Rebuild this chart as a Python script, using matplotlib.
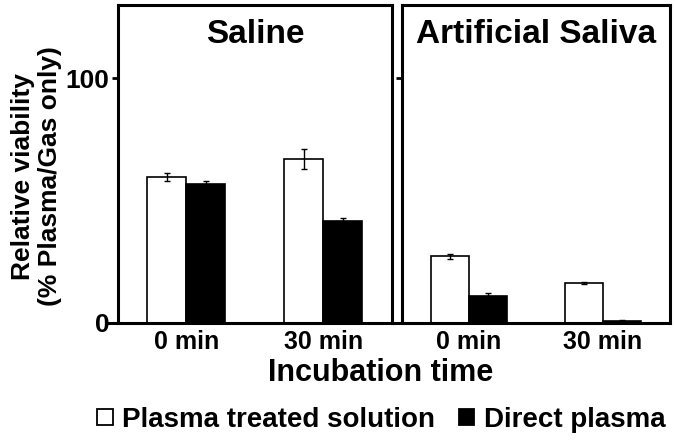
import matplotlib
matplotlib.use('Agg')
import matplotlib.pyplot as plt
from matplotlib.patches import Patch
import numpy as np

# ── Data ───────────────────────────────────────────────────────────────────────
times = ['0 min', '30 min']
panels = ['Saline', 'Artificial Saliva']
series = ['Plasma treated solution', 'Direct plasma']

saline_pts = [59.7, 67.0]
saline_pts_err = [1.6, 4.0]
saline_direct = [57.0, 41.8]
saline_direct_err = [0.9, 1.2]

saliva_pts = [27.2, 16.3]
saliva_pts_err = [1.1, 0.4]
saliva_direct = [11.1, 0.8]
saliva_direct_err = [1.2, 0.3]

# ── Style ──────────────────────────────────────────────────────────────────────
plt.rcParams['font.family'] = ['Liberation Sans', 'DejaVu Sans']
plt.rcParams['font.weight'] = 'bold'

fig = plt.figure(figsize=(6.75, 4.41), dpi=100)
ax1 = fig.add_axes([0.1744, 0.2676, 0.4063, 0.7211])
ax2 = fig.add_axes([0.5956, 0.2676, 0.3970, 0.7211])

w = 0.285
x = np.arange(len(times))
err_kw = dict(ecolor='black', elinewidth=1.0, capsize=2.5, capthick=1.0)

for ax, title, a, ae, b, be in [
    (ax1, panels[0], saline_pts, saline_pts_err, saline_direct, saline_direct_err),
    (ax2, panels[1], saliva_pts, saliva_pts_err, saliva_direct, saliva_direct_err),
]:
    ax.bar(x - w/2, a, w, yerr=ae, color='white', edgecolor='black',
           linewidth=1.2, error_kw=err_kw, zorder=2)
    ax.bar(x + w/2, b, w, yerr=be, color='black', edgecolor='black',
           linewidth=1.2, error_kw=err_kw, zorder=2)
    ax.set_xlim(-0.5, 1.5)
    ax.set_ylim(0, 130)
    ax.set_yticks([0, 100])
    ax.set_xticks(x)
    ax.set_xticklabels(times, fontsize=18, fontweight='bold')
    ax.tick_params(axis='x', length=0, pad=5)
    ax.tick_params(axis='y', direction='out', length=4, width=2, pad=2)
    for s in ax.spines.values():
        s.set_linewidth(2.2)
    ax.spines['bottom'].set_bounds(-0.56, 1.5)
    ax.text(0.5, 0.88, title, transform=ax.transAxes, ha='center',
            va='baseline', fontsize=24, fontweight='bold')

ax1.set_yticklabels(['0', '100'], fontsize=19, fontweight='bold')
ax2.set_yticklabels([])

fig.text(0.054, 0.6, 'Relative viability\n(% Plasma/Gas only)', rotation=90,
         ha='center', va='center', fontsize=19, fontweight='bold',
         linespacing=1.12)

fig.text(0.564, 0.155, 'Incubation time', ha='center', va='center',
         fontsize=22, fontweight='bold')

handles = [Patch(facecolor='white', edgecolor='black', linewidth=1.3),
           Patch(facecolor='black', edgecolor='black', linewidth=1.3)]
fig.legend(handles, series, loc='center', bbox_to_anchor=(0.565, 0.048),
           ncol=2, frameon=False, handlelength=0.55, handleheight=0.55,
           handletextpad=0.35, columnspacing=0.85,
           prop={'size': 20, 'weight': 'bold'})

fig.savefig('out.png', dpi=100)
